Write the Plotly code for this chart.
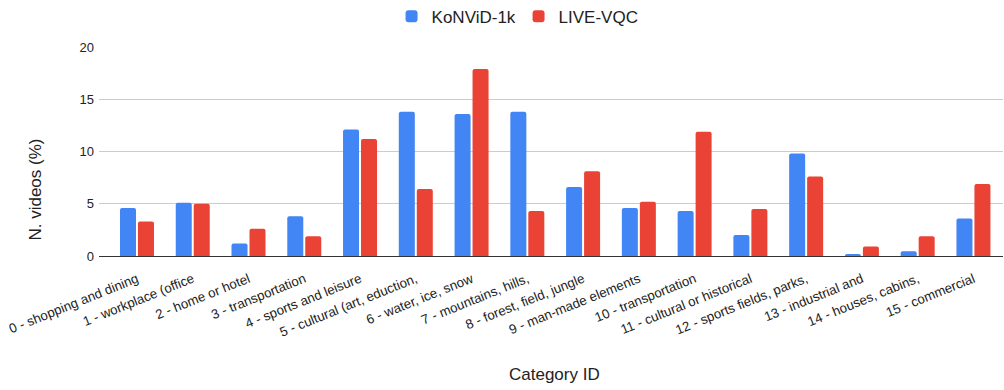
import plotly.graph_objects as go

# Scene categories (labels as they appear on the axis, some truncated)
categories = [
    "0 - shopping and dining",
    "1 - workplace (office",
    "2 - home or hotel",
    "3 - transportation",
    "4 - sports and leisure",
    "5 - cultural (art, eduction,",
    "6 - water, ice, snow",
    "7 - mountains, hills,",
    "8 - forest, field, jungle",
    "9 - man-made elements",
    "10 - transportation",
    "11 - cultural or historical",
    "12 - sports fields, parks,",
    "13 - industrial and",
    "14 - houses, cabins,",
    "15 - commercial",
]

# Share of videos per category (%)
konvid_1k = [4.6, 5.1, 1.2, 3.8, 12.1, 13.8, 13.6, 13.8, 6.6, 4.6, 4.3, 2.0, 9.8, 0.2, 0.45, 3.6]
live_vqc = [3.3, 5.0, 2.6, 1.9, 11.2, 6.4, 17.9, 4.3, 8.1, 5.2, 11.9, 4.5, 7.6, 0.9, 1.9, 6.9]

y_ticks = [0, 5, 10, 15, 20]

FONT = "Liberation Sans, Arial, sans-serif"
BLUE = "#4285F4"
RED = "#EA4335"

x_pos = list(range(len(categories)))

fig = go.Figure()
fig.add_trace(go.Bar(x=x_pos, y=konvid_1k, name="KoNViD-1k",
                     marker=dict(color=BLUE, cornerradius=2, line=dict(width=0))))
fig.add_trace(go.Bar(x=x_pos, y=live_vqc, name="LIVE-VQC",
                     marker=dict(color=RED, cornerradius=2, line=dict(width=0))))

fig.update_layout(
    width=1004, height=390,
    margin=dict(l=99, r=1, t=47, b=134),
    paper_bgcolor="white", plot_bgcolor="white",
    font=dict(family=FONT, color="#222222"),
    barmode="group", bargap=0.355, bargroupgap=0.11,
    showlegend=True,
    legend=dict(orientation="h", xref="container", yref="container",
                x=0.39, xanchor="left", y=0.957, yanchor="middle",
                font=dict(size=17, color="#222222"),
                entrywidth=82, entrywidthmode="pixels",
                bgcolor="rgba(0,0,0,0)"),
    xaxis=dict(range=[-0.681, 15.53], tickmode="array", tickvals=x_pos,
               ticktext=categories, tickangle=-22,
               tickfont=dict(size=13.3, color="#222222"),
               ticklabelstandoff=12, ticklabelshift=0,
               showgrid=False, zeroline=False, showline=False, ticks=""),
    yaxis=dict(range=[0, 20], tickmode="array", tickvals=y_ticks,
               tickfont=dict(size=13, color="#222222"),
               showgrid=True, gridcolor="#cccccc", gridwidth=1,
               zeroline=True, zerolinecolor="#333333", zerolinewidth=1,
               showline=False, ticks="", ticklabelstandoff=4),
    annotations=[
        dict(text="N. videos (%)", xref="paper", yref="paper",
             x=-0.0702, y=0.3158, textangle=-90, showarrow=False,
             xanchor="center", yanchor="middle",
             font=dict(size=17, color="#222222")),
        dict(text="Category ID", xref="paper", yref="paper",
             x=0.504, y=-0.569, showarrow=False,
             xanchor="center", yanchor="middle",
             font=dict(size=17, color="#222222")),
    ],
)

fig.write_html("out.html")
